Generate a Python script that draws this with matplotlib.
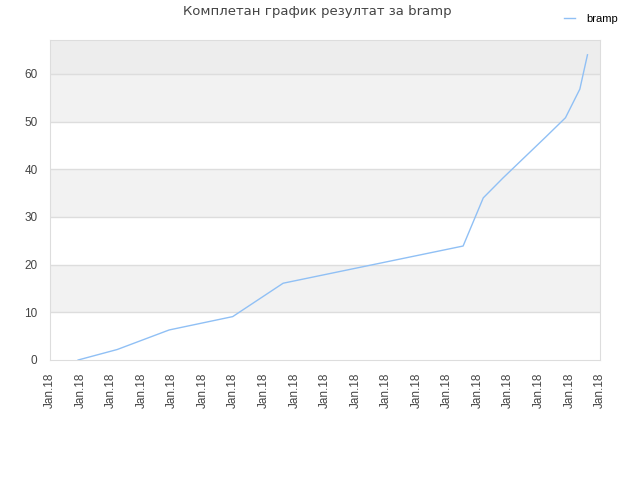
import matplotlib
matplotlib.use("Agg")
import matplotlib.pyplot as plt

# data (x in tick units, all labelled Jan.18)
x_pos = [0.92, 2.20, 3.90, 5.98, 7.63, 13.52, 14.18, 14.83, 16.23, 16.87, 17.34, 17.59]
score = [0, 2.2, 6.3, 9.1, 16.1, 23.9, 34.0, 38.2, 46.8, 50.8, 56.8, 64.0]
tick_labels = ['Jan.18'] * 19
y_ticks = [0, 10, 20, 30, 40, 50, 60]

plt.rcParams['font.family'] = ['Liberation Sans', 'DejaVu Sans']

fig = plt.figure(figsize=(6.4, 4.8), dpi=100)
ax = fig.add_axes([50 / 640, 120 / 480, 550 / 640, 320 / 480])

ax.set_xlim(0, 18)
ax.set_ylim(0, 67.1)

# alternating horizontal bands
for lo, hi, c in [(10, 20, '#f2f2f2'), (30, 40, '#f2f2f2'), (50, 60, '#f2f2f2'), (60, 67.1, '#ededed')]:
    ax.axhspan(lo, hi, color=c, lw=0, zorder=0)
for y in y_ticks[1:]:
    ax.axhline(y, color='#dddddd', lw=1, zorder=1)

ax.plot(x_pos, score, color='#90c0f5', lw=1, label='bramp', zorder=3)

ax.set_xticks(range(19))
ax.set_xticklabels(tick_labels, rotation=90, fontsize=8.5, color='#444444')
ax.set_yticks(y_ticks)
ax.set_yticklabels([str(v) for v in y_ticks], fontsize=8.5, color='#444444')
ax.tick_params(axis='x', length=0, pad=9)
ax.tick_params(axis='y', length=0, pad=9)

for s in ax.spines.values():
    s.set_color('#dddddd')

fig.text(317 / 640, 1 - 12 / 480, 'Комплетан график резултат за bramp', ha='center', va='center',
         fontsize=9.5, color='#444444', family='DejaVu Sans')
fig.legend(loc='upper right', bbox_to_anchor=(628 / 640, 1 - 4 / 480), frameon=False,
           fontsize=8, handlelength=1.0, handletextpad=1.0)

fig.savefig('out.png', dpi=100)
